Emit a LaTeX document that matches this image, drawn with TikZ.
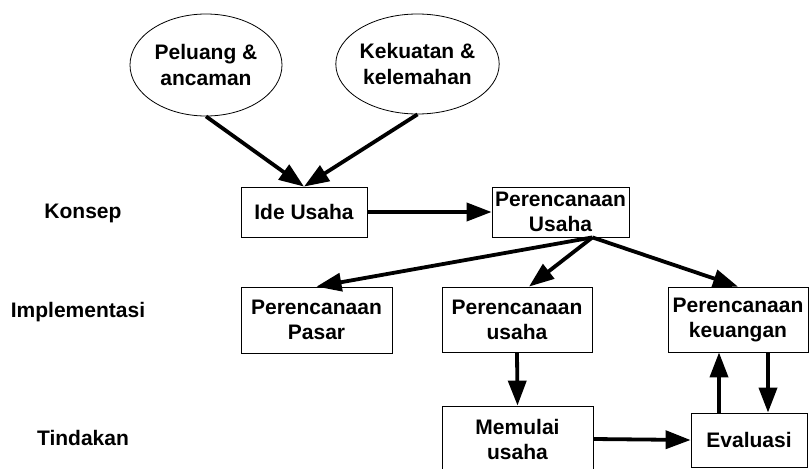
\documentclass[tikz,border=0pt]{standalone}
\usepackage{fontspec}
\setmainfont{Liberation Sans}
\usetikzlibrary{shapes.geometric,arrows.meta,calc}
\tikzset{
  lbl/.style={font=\fontsize{21}{25}\selectfont\bfseries, align=center, inner sep=0pt},
  oval/.style={ellipse, draw, line width=0.8pt, font=\fontsize{21}{26}\selectfont\bfseries, align=center, inner sep=0pt},
  box/.style={rectangle, draw, line width=0.8pt, font=\fontsize{21}{25}\selectfont\bfseries, align=center, inner sep=0pt},
  arr/.style={line width=3.8pt, -{Triangle[length=25pt,width=18pt]}}
}
\begin{document}
\begin{tikzpicture}[x=1pt,y=-1pt]
\useasboundingbox (0,0) rectangle (810,468);
% ovals
\node[oval, minimum width=152pt, minimum height=102pt] (e1) at (206,65) {Peluang \&\\ancaman};
\node[oval, minimum width=151pt, minimum height=100pt] (e2) at (417.5,64) {Kekuatan \&\\kelemahan};
% boxes
\node[box, minimum width=126pt, minimum height=50pt] (ide) at (304,212) {Ide Usaha};
\node[box, minimum width=137pt, minimum height=50pt] (pu) at (560.5,212) {Perencanaan\\Usaha};
\node[box, minimum width=151pt, minimum height=66pt] (pasar) at (316.5,320) {Perencanaan\\Pasar};
\node[box, minimum width=150pt, minimum height=65pt] (pusaha) at (517,319.5) {Perencanaan\\usaha};
\node[box, minimum width=140pt, minimum height=65pt] (keu) at (738,319.5) {Perencanaan\\keuangan};
\node[box, minimum width=151pt, minimum height=66pt] (mulai) at (517.5,439) {Memulai\\usaha};
\node[box, minimum width=116pt, minimum height=54pt] (eval) at (749,440) {Evaluasi};
% row labels
\node[lbl] (konsep) at (83,213) {Konsep};
\node[lbl] (impl) at (78,312) {Implementasi};
\node[lbl] (tind) at (83,438) {Tindakan};
% connectors
\draw[arr] (e1.south) -- (ide.north);
\draw[arr] (e2.south) -- (ide.north);
\draw[arr] (ide.east) -- (pu.west);
\coordinate (pus) at (pusaha.east |- pu.south);
\draw[arr] (pus) -- (pasar.north);
\draw[arr] (pus) -- ($(pusaha.north)+(12,0)$);
\draw[arr] (pus) -- (keu.north);
\draw[arr] (pusaha.south) -- (mulai.north);
\draw[arr] (mulai.east) -- (eval.west);
\draw[arr] ($(eval.north)+(-30,0)$) -- ($(eval.north |- keu.south)+(-30,0)$);
\draw[arr] ($(eval.north |- keu.south)+(19,0)$) -- ($(eval.north)+(19,0)$);
\end{tikzpicture}
\end{document}
